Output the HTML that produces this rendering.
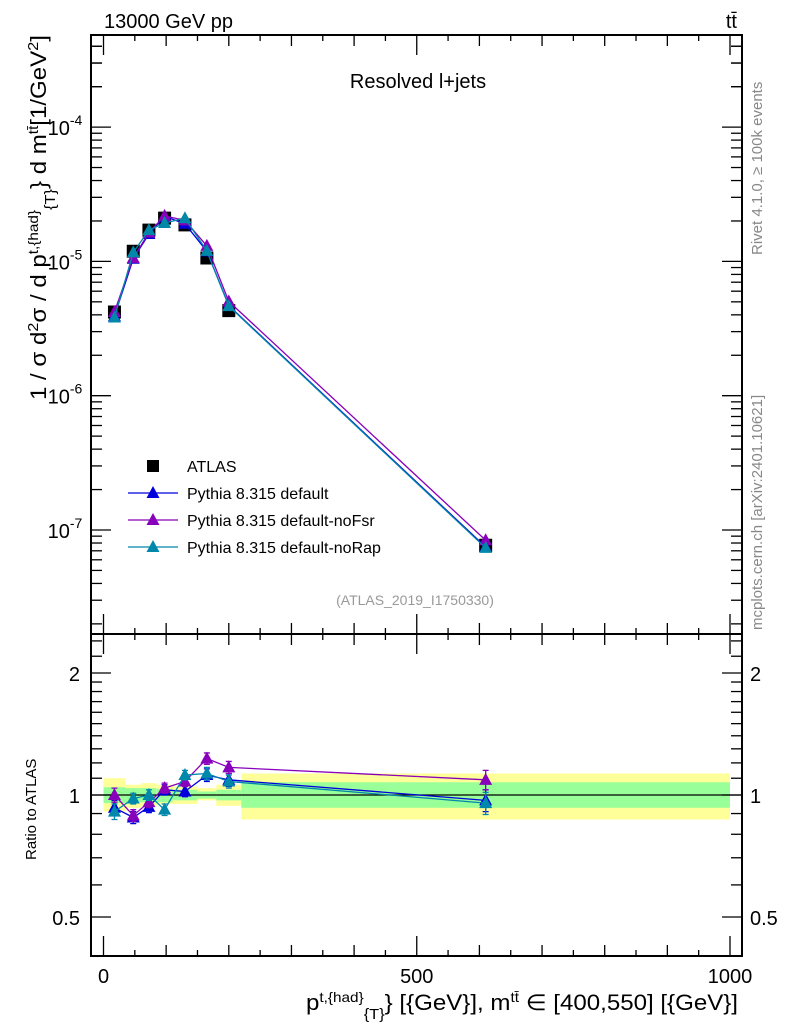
<!DOCTYPE html>
<html><head><meta charset="utf-8"><style>
html,body{margin:0;padding:0;background:#fff;}
svg{display:block;font-family:"Liberation Sans","DejaVu Sans",sans-serif;}
</style></head><body>
<svg id="chart" width="786" height="1024" viewBox="0 0 786 1024">
<g id="bands"></g>
<g id="main"></g>
<g id="ratio"></g>
<g id="axes"></g>
<text x="104" y="28" font-size="20">13000 GeV pp</text>
<text x="737" y="28" font-size="20" text-anchor="end">tt̄</text>
<text x="418" y="88" font-size="20" text-anchor="middle">Resolved l+jets</text>
<text x="415" y="605" font-size="14" fill="#999" text-anchor="middle">(ATLAS_2019_I1750330)</text>
<text transform="translate(762,255) rotate(-90)" font-size="15" fill="#888">Rivet 4.1.0, ≥ 100k events</text>
<text transform="translate(762,630) rotate(-90)" font-size="15" fill="#888">mcplots.cern.ch [arXiv:2401.10621]</text>
<text transform="translate(46,400) rotate(-90)" font-size="22" textLength="365" lengthAdjust="spacingAndGlyphs">1 / σ d<tspan baseline-shift="super" font-size="15">2</tspan>σ / d p<tspan baseline-shift="super" font-size="14">t,{had}</tspan><tspan font-size="15" baseline-shift="sub">{T}</tspan>} d m<tspan baseline-shift="super" font-size="14">tt̄</tspan>[1/GeV<tspan baseline-shift="super" font-size="15">2</tspan>]</text>
<text transform="translate(36,860) rotate(-90)" font-size="15">Ratio to ATLAS</text>
<text x="738" y="1010" font-size="22" text-anchor="end" textLength="432" lengthAdjust="spacingAndGlyphs">p<tspan baseline-shift="super" font-size="14">t,{had}</tspan><tspan font-size="15" baseline-shift="sub">{T}</tspan>} [{GeV}], m<tspan baseline-shift="super" font-size="14">tt̄</tspan> ∈ [400,550] [{GeV}]</text>
<g id="legend"></g>
</svg>
<script>
const binEdges=[0,35,60,85,110,150,180,220,1000];
const xCenters=[17.5,47.5,72.5,97.5,130,165,200,610];
const atlasVals=[4.2e-6,1.19e-5,1.71e-5,2.1e-5,1.87e-5,1.06e-5,4.3e-6,7.7e-8];
const ratioDefault=[0.93,0.88,0.935,1.03,1.02,1.12,1.09,0.97];
const ratioNoFsr=[1.0,0.89,0.96,1.04,1.08,1.23,1.17,1.09];
const ratioNoRap=[0.91,0.98,1.0,0.92,1.12,1.13,1.08,0.955];
const ratioErr=[0.04,0.03,0.03,0.03,0.03,0.04,0.04,0.06];
const yellowUp=[1.10,1.06,1.07,1.06,1.05,1.04,1.06,1.13];
const yellowDn=[0.91,0.93,0.94,0.95,0.95,0.97,0.94,0.87];
const greenUp=[1.045,1.04,1.04,1.035,1.03,1.02,1.03,1.075];
const greenDn=[0.955,0.96,0.96,0.96,0.97,0.98,0.97,0.93];
const xTicks=[0,500,1000];
const ratioTicks=[0.5,1,2];
const decades=[-7,-6,-5,-4];

const NS="http://www.w3.org/2000/svg";
const L=91,R=742,T=35,MID=634,B=956;
const X=v=>103.5+v*0.6265;
const Y=v=>127.1-(Math.log10(v)+4)*134.3;
const RY=v=>795-Math.log2(v)*122;
function mk(tag,attrs,parent){const e=document.createElementNS(NS,tag);for(const k in attrs)e.setAttribute(k,attrs[k]);parent.appendChild(e);return e;}
const bands=document.getElementById('bands'),main=document.getElementById('main'),ratio=document.getElementById('ratio'),axes=document.getElementById('axes'),legend=document.getElementById('legend');

for(let i=0;i<xCenters.length;i++){
  const x0=X(binEdges[i]),x1=X(binEdges[i+1]);
  let r=mk('rect',{x:x0,y:RY(yellowUp[i]),width:x1-x0,height:RY(yellowDn[i])-RY(yellowUp[i]),fill:'#ffff99'},bands);
  
  
  r=mk('rect',{x:x0,y:RY(greenUp[i]),width:x1-x0,height:RY(greenDn[i])-RY(greenUp[i]),fill:'#99ff99'},bands);
  
  
}
let ln=mk('line',{x1:L,x2:R,y1:RY(1),y2:RY(1),stroke:'#000','stroke-width':1.2},bands);



function tri(g,cx,cy,col,name){
  const p=mk('polygon',{points:`${cx},${cy-7} ${cx-6.5},${cy+5} ${cx+6.5},${cy+5}`,fill:col},g);
  
  
}
const series=[
 {name:'Pythia 8.315 default',col:'#0000dd',r:ratioDefault,id:'default'},
 {name:'Pythia 8.315 default-noFsr',col:'#8800bb',r:ratioNoFsr,id:'nofsr'},
 {name:'Pythia 8.315 default-noRap',col:'#0088aa',r:ratioNoRap,id:'norap'}];

for(let i=0;i<xCenters.length;i++){
  const s=mk('rect',{x:X(xCenters[i])-6.5,y:Y(atlasVals[i])-6.5,width:13,height:13,fill:'#000'},main);
  
  
}
series.forEach(s=>{
  const pts=xCenters.map((x,i)=>`${X(x)},${Y(atlasVals[i]*s.r[i])}`).join(' ');
  let pl=mk('polyline',{points:pts,fill:'none',stroke:s.col,'stroke-width':1.3},main);
  
  
  xCenters.forEach((x,i)=>tri(main,X(x),Y(atlasVals[i]*s.r[i]),s.col,s.id+'-point'));
  const rp=xCenters.map((x,i)=>`${X(x)},${RY(s.r[i])}`).join(' ');
  pl=mk('polyline',{points:rp,fill:'none',stroke:s.col,'stroke-width':1.3},ratio);
  
  
  xCenters.forEach((x,i)=>{
    const cx=X(x),y1=RY(s.r[i]+ratioErr[i]),y2=RY(s.r[i]-ratioErr[i]);
    const e=mk('path',{d:`M${cx},${y1}V${y2}M${cx-3},${y1}H${cx+3}M${cx-3},${y2}H${cx+3}`,stroke:s.col,'stroke-width':1.3,fill:'none'},ratio);
    
    
    tri(ratio,cx,RY(s.r[i]),s.col,s.id+'-ratio-point');
  });
});

[[T,MID],[MID,B]].forEach(([a,b])=>{
  const f=mk('rect',{x:L,y:a,width:R-L,height:b-a,fill:'none',stroke:'#000','stroke-width':2},axes);
  
  
});
function tk(x1,y1,x2,y2){mk('line',{x1,y1,x2,y2,stroke:'#000','stroke-width':1.3},axes);}
function lbl(x,y,t,anchor,size){const e=mk('text',{x,y,'font-size':size||20,'text-anchor':anchor},axes);e.textContent=t;return e;}
for(let v=0;v<=1000;v+=50){
  const len=v%500===0?20:(v%100===0?11:6),x=X(v);
  [T,MID].forEach(y=>{tk(x,y,x,y+len);});
  [MID,B].forEach(y=>{tk(x,y,x,y-len);});
}
xTicks.forEach(v=>lbl(X(v),983,String(v),'middle'));
decades.forEach(d=>{
  for(let m=1;m<10;m++){
    const y=Y(m*Math.pow(10,d));
    if(y<T||y>MID)continue;
    const len=m===1?20:11;
    tk(L,y,L+len,y);tk(R,y,R-len,y);
  }
  const y=Y(Math.pow(10,d));
  const t=lbl(82,y+8,'10','end');
  const s=mk('tspan',{'font-size':14,dy:-10},t);s.textContent=String(d);
  t.setAttribute('x',65);t.setAttribute('text-anchor','middle');
});
for(let m=2;m<10;m++){const y=Y(m*1e-8);if(y<=MID&&y>=T){tk(L,y,L+11,y);tk(R,y,R-11,y);}}
for(let m=2;m<10;m++){const y=Y(m*1e-4);if(y<=MID&&y>=T){tk(L,y,L+11,y);tk(R,y,R-11,y);}}
[0.5,0.6,0.7,0.8,0.9,1,1.1,1.2,1.3,1.4,1.5,1.6,1.7,1.8,1.9,2,2.2,2.4].forEach(v=>{
  const y=RY(v);if(y<MID||y>B)return;
  const len=ratioTicks.includes(v)?20:11;tk(L,y,L+len,y);tk(R,y,R-len,y);
});
ratioTicks.forEach(v=>{lbl(80,RY(v)+8,String(v),'end');lbl(750,RY(v)+8,String(v),'start');});

const ly=[466,493,520,547];
let sq=mk('rect',{x:147,y:ly[0]-6,width:12,height:12,fill:'#000'},legend);


let lt=mk('text',{x:187,y:ly[0]+6,'font-size':16},legend);lt.textContent='ATLAS';


series.forEach((s,i)=>{
  const y=ly[i+1];
  const l=mk('line',{x1:128,x2:178,y1:y,y2:y,stroke:s.col,'stroke-width':1.3},legend);
  
  
  tri(legend,153,y,s.col,'legend-marker');
  const t=mk('text',{x:187,y:y+6,'font-size':16},legend);t.textContent=s.name;
  
  
});
</script>
</body></html>
